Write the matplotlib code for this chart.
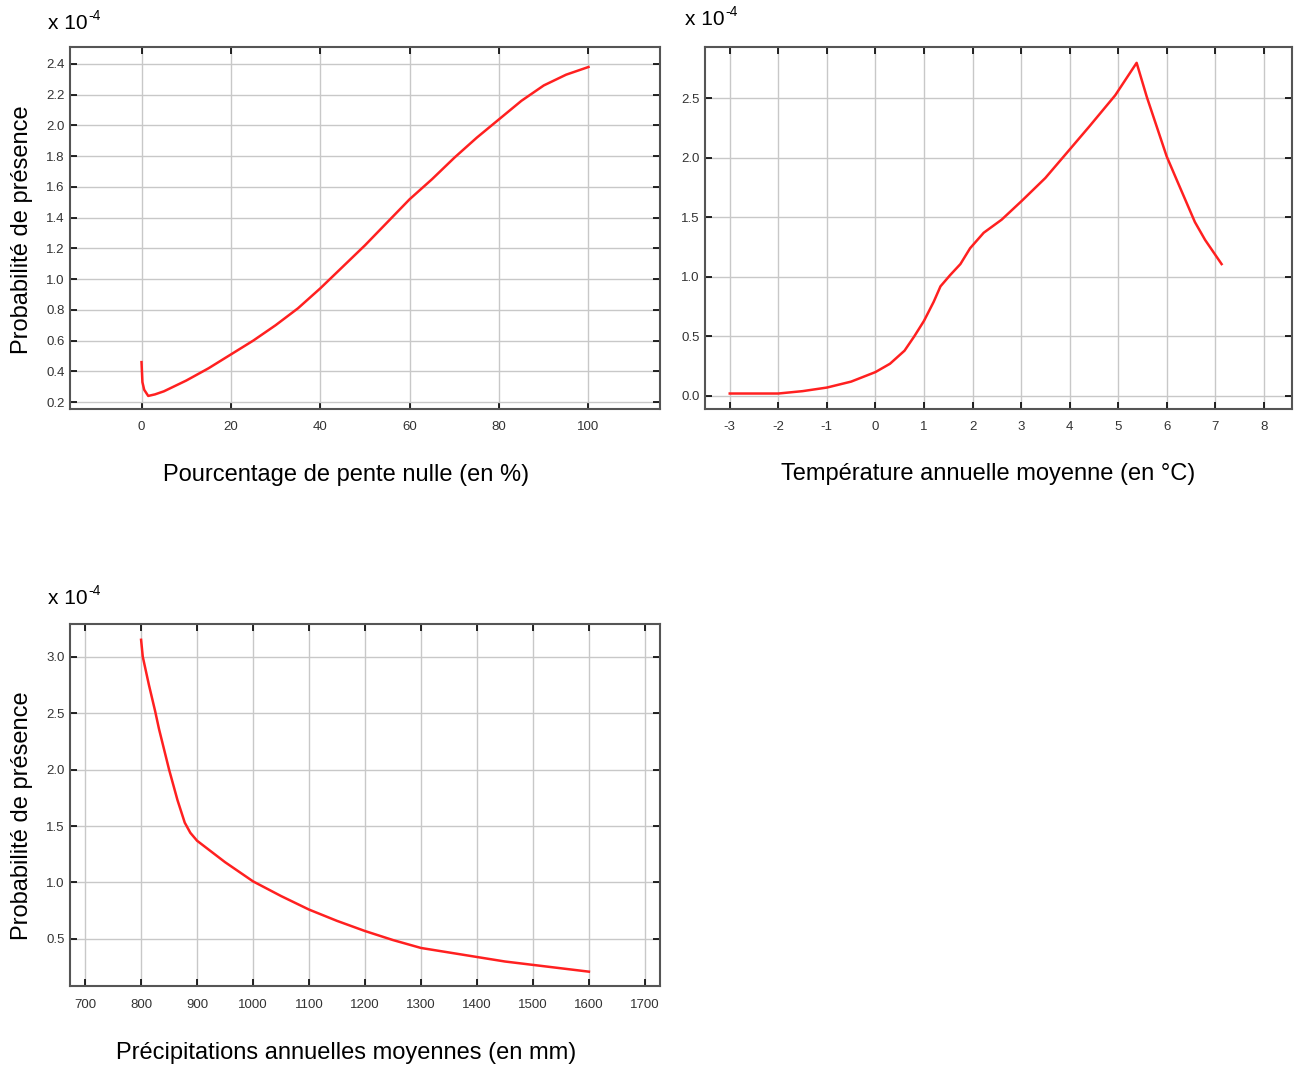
import numpy as np
import matplotlib.pyplot as plt

plt.rcParams['font.family'] = ['Liberation Sans', 'DejaVu Sans']
plt.rcParams['axes.unicode_minus'] = False

# === données (x 10^-4) ===
pente_x = [0, 0.2, 0.6, 1.5, 3, 5, 10, 15, 20, 25, 30, 35, 40, 45, 50, 55, 60,
           65, 70, 75, 80, 85, 90, 95, 100]
pente_y = [0.46, 0.33, 0.28, 0.24, 0.25, 0.27, 0.34, 0.42, 0.51, 0.60, 0.70,
           0.81, 0.94, 1.08, 1.22, 1.37, 1.52, 1.65, 1.79, 1.92, 2.04, 2.16,
           2.26, 2.33, 2.38]

temp_x = [-3, -2, -1.5, -1, -0.5, 0, 0.3, 0.6, 0.8, 1.0, 1.2, 1.34, 1.54, 1.75,
          1.95, 2.23, 2.6, 3.02, 3.5, 3.94, 4.4, 4.94, 5.38, 5.59, 6.0, 6.21,
          6.58, 6.79, 7.13]
temp_y = [0.02, 0.02, 0.04, 0.07, 0.12, 0.20, 0.27, 0.38, 0.50, 0.63, 0.79,
          0.92, 1.015, 1.107, 1.24, 1.37, 1.48, 1.64, 1.83, 2.04, 2.26, 2.525,
          2.797, 2.51, 2.01, 1.81, 1.46, 1.31, 1.107]

precip_x = [800, 803, 814, 825, 832, 840, 850, 865, 878, 888, 900, 950, 1000,
            1050, 1100, 1150, 1200, 1250, 1300, 1350, 1400, 1450, 1500, 1550, 1600]
precip_y = [3.15, 3.0, 2.75, 2.52, 2.36, 2.2, 2.0, 1.73, 1.53, 1.44, 1.37, 1.18,
            1.01, 0.88, 0.76, 0.66, 0.57, 0.49, 0.42, 0.38, 0.34, 0.30, 0.27,
            0.24, 0.21]

W, H = 1296, 1067
fig = plt.figure(figsize=(W / 100, H / 100), dpi=100)


def px_axes(left, top, right, bottom):
    return fig.add_axes([left / W, 1 - bottom / H, (right - left) / W, (bottom - top) / H])


def style(ax, xticks, yticks):
    ax.set_xticks(xticks)
    ax.set_yticks(yticks)
    ax.set_yticklabels(['{:.1f}'.format(v) for v in yticks])
    ax.grid(True, color='#c8c8c8', linewidth=1)
    ax.set_axisbelow(True)
    ax.tick_params(direction='in', length=5, width=1.2, color='black',
                   top=True, right=True, labelsize=9.5, labelcolor='#333333')
    ax.tick_params(axis='x', pad=9)
    ax.tick_params(axis='y', pad=4)
    for s in ax.spines.values():
        s.set_color('#555555')
        s.set_linewidth(1.5)


def exposant(x, y):
    fig.text(x / W, 1 - y / H, 'x 10', fontsize=15, va='baseline')
    fig.text((x + 40) / W, 1 - (y - 9) / H, '-4', fontsize=10, va='baseline')


line_kw = dict(color='#ff2020', linewidth=1.8)

# panneau 1
ax1 = px_axes(70, 47, 660, 409)
ax1.plot(pente_x, pente_y, **line_kw)
ax1.set_xlim(-16, 116)
ax1.set_ylim(0.155, 2.51)
style(ax1, [0, 20, 40, 60, 80, 100], [0.2, 0.4, 0.6, 0.8, 1.0, 1.2, 1.4, 1.6, 1.8, 2.0, 2.2, 2.4])

# panneau 2
ax2 = px_axes(705, 47, 1292, 409)
ax2.plot(temp_x, temp_y, **line_kw)
ax2.set_xlim(-3.51, 8.58)
ax2.set_ylim(-0.11, 2.93)
style(ax2, list(range(-3, 9)), [0.0, 0.5, 1.0, 1.5, 2.0, 2.5])

# panneau 3
ax3 = px_axes(70, 624, 660, 986)
ax3.plot(precip_x, precip_y, **line_kw)
ax3.set_xlim(673, 1727)
ax3.set_ylim(0.083, 3.29)
style(ax3, list(range(700, 1701, 100)), [0.5, 1.0, 1.5, 2.0, 2.5, 3.0])

# textes
exposant(48, 29)
exposant(685, 25)
exposant(48, 604)

lab = dict(fontsize=17, color='black')
fig.text(22 / W, 1 - 230 / H, 'Probabilité de présence', rotation=90, ha='center', va='center', **lab)
fig.text(22 / W, 1 - 816 / H, 'Probabilité de présence', rotation=90, ha='center', va='center', **lab)

fig.text(346 / W, 1 - 475 / H, 'Pourcentage de pente nulle (en %)', ha='center', va='center', **lab)
fig.text(988 / W, 1 - 474 / H, 'Température annuelle moyenne (en °C)', ha='center', va='center', **lab)
fig.text(346 / W, 1 - 1053 / H, 'Précipitations annuelles moyennes (en mm)', ha='center', va='center', **lab)

fig.savefig('out.png', dpi=100)
